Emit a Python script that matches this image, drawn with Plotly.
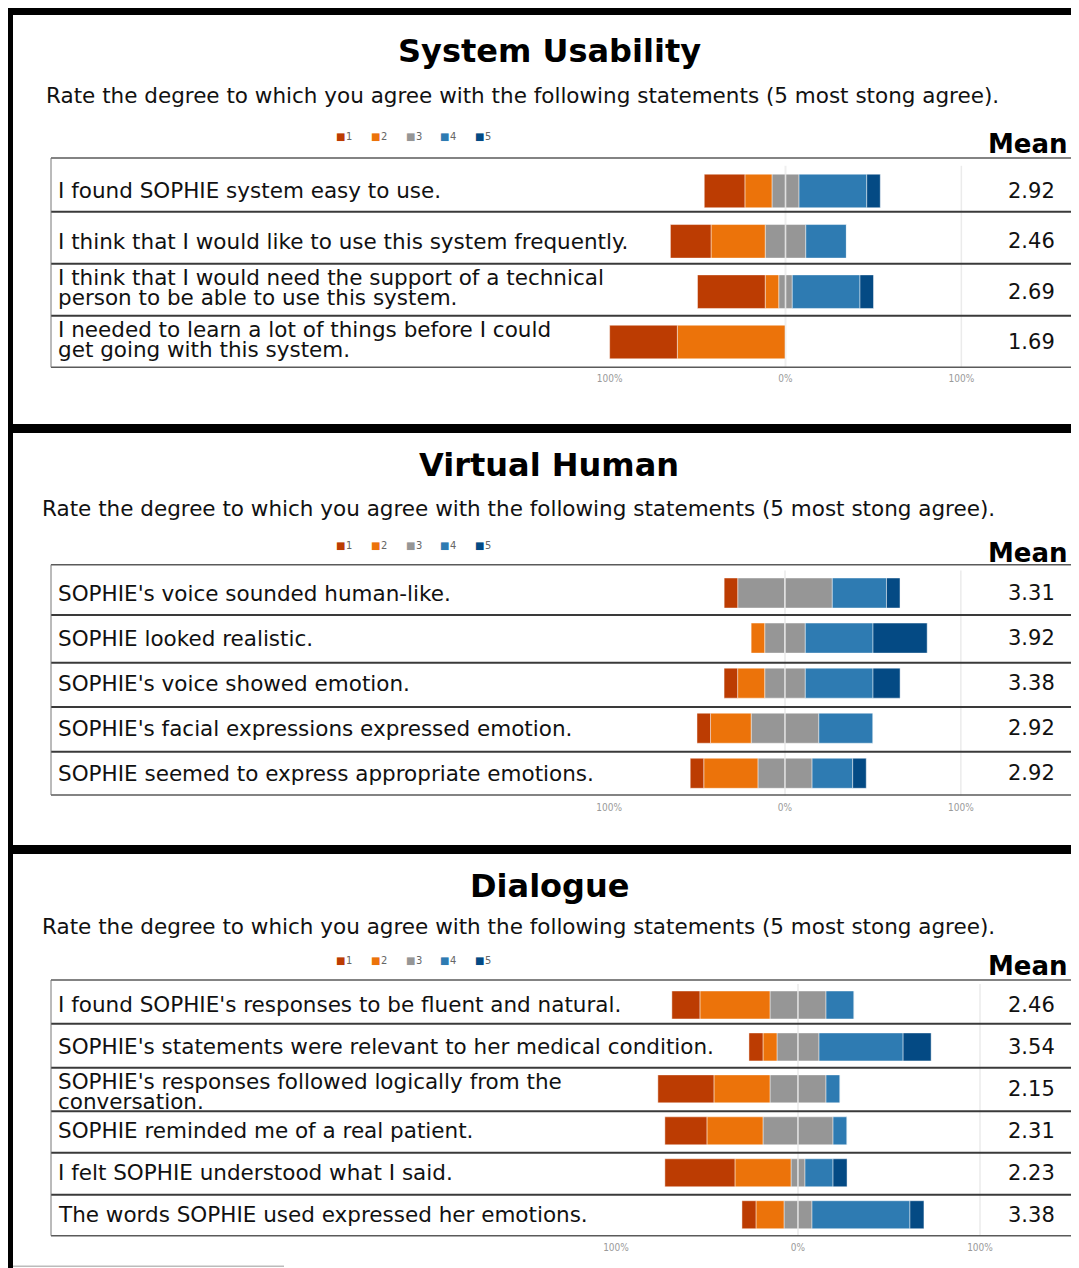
import plotly.graph_objects as go

# page is 1079x1268; the html body adds an 8px margin, so the figure is sized to fill the rest
PAGE_W, PAGE_H = 1079, 1268
OFF = 8
W, H = PAGE_W - OFF, PAGE_H - OFF

# ---------------- data ----------------
level_names = ["1", "2", "3", "4", "5"]
level_colors = ["#BC3C02", "#EC730A", "#969696", "#2E7BB2", "#044A84"]

subtitle_text = "Rate the degree to which you agree with the following statements (5 most stong agree)."
tick_vals = [-100, 0, 100]
tick_text = ["100%", "0%", "100%"]

su_title = "System Usability"
su_labels = [
    "I found SOPHIE system easy to use.",
    "I think that I would like to use this system frequently.",
    "I think that I would need the support of a technical<br>person to be able to use this system.",
    "I needed to learn a lot of things before I could<br>get going with this system.",
]
su_means = ["2.92", "2.46", "2.69", "1.69"]
su_1 = [23.1, 23.1, 38.5, 38.5]
su_2 = [15.4, 30.8, 7.7, 61.5]
su_3 = [15.4, 23.1, 7.7, 0.0]
su_4 = [38.5, 23.1, 38.5, 0.0]
su_5 = [7.7, 0.0, 7.7, 0.0]

vh_title = "Virtual Human"
vh_labels = [
    "SOPHIE's voice sounded human-like.",
    "SOPHIE looked realistic.",
    "SOPHIE's voice showed emotion.",
    "SOPHIE's facial expressions expressed emotion.",
    "SOPHIE seemed to express appropriate emotions.",
]
vh_means = ["3.31", "3.92", "3.38", "2.92", "2.92"]
vh_1 = [7.7, 0.0, 7.7, 7.7, 7.7]
vh_2 = [0.0, 7.7, 15.4, 23.1, 30.8]
vh_3 = [53.8, 23.1, 23.1, 38.5, 30.8]
vh_4 = [30.8, 38.5, 38.5, 30.8, 23.1]
vh_5 = [7.7, 30.8, 15.4, 0.0, 7.7]

dl_title = "Dialogue"
dl_labels = [
    "I found SOPHIE's responses to be fluent and natural.",
    "SOPHIE's statements were relevant to her medical condition.",
    "SOPHIE's responses followed logically from the<br>conversation.",
    "SOPHIE reminded me of a real patient.",
    "I felt SOPHIE understood what I said.",
    "The words SOPHIE used expressed her emotions.",
]
dl_means = ["2.46", "3.54", "2.15", "2.31", "2.23", "3.38"]
dl_1 = [15.4, 7.7, 30.8, 23.1, 38.5, 7.7]
dl_2 = [38.5, 7.7, 30.8, 30.8, 30.8, 15.4]
dl_3 = [30.8, 23.1, 30.8, 38.5, 7.7, 15.4]
dl_4 = [15.4, 46.2, 7.7, 7.7, 15.4, 53.8]
dl_5 = [0.0, 15.4, 0.0, 0.0, 7.7, 7.7]

# ---------------- layout helpers ----------------
FONT = "DejaVu Sans, Verdana, sans-serif"
NARROW = "Liberation Sans Narrow, DejaVu Sans Condensed, Roboto, sans-serif"
LABEL_SIZE = 21.5


def fx(px):
    return (px - OFF) / W


def fy(py):
    return 1 - (py - OFF) / H


panels = [
    dict(title=su_title, labels=su_labels, means=su_means,
         levels=[su_1, su_2, su_3, su_4, su_5],
         title_y=51, sub_x=44, sub_y=96, legend_y=137, mean_y=144,
         plot_top=165.8, plot_bottom=367.2, zero=785.5, scale=1.7585,
         rows=[158, 211.7, 263.7, 315.7, 367.3]),
    dict(title=vh_title, labels=vh_labels, means=vh_means,
         levels=[vh_1, vh_2, vh_3, vh_4, vh_5],
         title_y=465, sub_x=40, sub_y=509, legend_y=545, mean_y=553,
         plot_top=570.5, plot_bottom=795.8, zero=785.0, scale=1.7585,
         rows=[564.7, 615, 662.7, 707, 751.7, 795]),
    dict(title=dl_title, labels=dl_labels, means=dl_means,
         levels=[dl_1, dl_2, dl_3, dl_4, dl_5],
         title_y=886, sub_x=40, sub_y=926, legend_y=960, mean_y=966,
         plot_top=984.0, plot_bottom=1235.7, zero=798.0, scale=1.82,
         rows=[980, 1023.7, 1067.7, 1111.3, 1152.7, 1194.7, 1235.7]),
]

DOM_L, DOM_R = 560, 1000
legend_x = [334, 369, 404, 438, 473]
LABEL_X = 56

fig = go.Figure()
shapes = []
annotations = []
layout_axes = {}

for p_i, p in enumerate(panels):
    sfx = "" if p_i == 0 else str(p_i + 1)
    xa, ya = "x" + sfx, "y" + sfx
    n = len(p["labels"])
    idx = list(range(n))
    l1, l2, l3, l4, l5 = p["levels"]
    segs = [
        (2, [-v / 2 for v in l3]),
        (1, [-v for v in l2]),
        (0, [-v for v in l1]),
        (2, [v / 2 for v in l3]),
        (3, l4),
        (4, l5),
    ]
    for lev, vals in segs:
        fig.add_trace(go.Bar(
            x=vals, y=idx, orientation="h", name=level_names[lev],
            marker=dict(color=level_colors[lev],
                        line=dict(color="rgba(255,255,255,0.45)", width=1)),
            showlegend=False, xaxis=xa, yaxis=ya,
        ))

    rng = [(DOM_L - p["zero"]) / p["scale"], (DOM_R - p["zero"]) / p["scale"]]
    layout_axes["xaxis" + sfx] = dict(
        domain=[fx(DOM_L), fx(DOM_R)], range=rng, anchor=ya,
        tickvals=tick_vals, ticktext=tick_text, showgrid=False, zeroline=False,
        showline=False, ticks="", fixedrange=True, ticklabelstandoff=4,
        tickfont=dict(family=NARROW, size=10, color="#9a9a9a"),
    )
    layout_axes["yaxis" + sfx] = dict(
        domain=[fy(p["plot_bottom"]), fy(p["plot_top"])],
        range=[n - 0.5, -0.5], anchor=xa, visible=False, fixedrange=True,
    )

    # gridlines (100% below bars, 0% above bars)
    shapes.append(dict(type="line", xref=xa, yref=ya + " domain", x0=100, x1=100,
                       y0=0, y1=1, line=dict(color="#ebebeb", width=1.5), layer="below"))
    shapes.append(dict(type="line", xref=xa, yref=ya + " domain", x0=0, x1=0,
                       y0=0, y1=1, line=dict(color="rgba(228,228,228,0.6)", width=2),
                       layer="above"))

    # table lines
    rows = p["rows"]
    for r_i, ry in enumerate(rows):
        outer = r_i == 0 or r_i == len(rows) - 1
        shapes.append(dict(type="line", xref="paper", yref="paper",
                           x0=fx(51), x1=1.0, y0=fy(ry), y1=fy(ry),
                           line=dict(color="#5a5a5a" if outer else "#3a3a3a",
                                     width=1.5 if outer else 2)))
    shapes.append(dict(type="line", xref="paper", yref="paper",
                       x0=fx(51), x1=fx(51), y0=fy(rows[0]), y1=fy(rows[-1]),
                       line=dict(color="#777777", width=1)))

    # titles
    annotations.append(dict(text="<b>" + p["title"] + "</b>", xref="paper", yref="paper",
                            x=fx(549), y=fy(p["title_y"]), xanchor="center", yanchor="middle",
                            showarrow=False, font=dict(family=FONT, size=32, color="#000")))
    annotations.append(dict(text=subtitle_text, xref="paper", yref="paper",
                            x=fx(p["sub_x"]), y=fy(p["sub_y"]), xanchor="left", yanchor="middle",
                            showarrow=False, font=dict(family=FONT, size=21.5, color="#111")))
    annotations.append(dict(text="<b>Mean</b>", xref="paper", yref="paper",
                            x=fx(1070), y=fy(p["mean_y"]), xanchor="right", yanchor="middle",
                            showarrow=False, font=dict(family=FONT, size=26, color="#000")))
    # legend
    for k in range(5):
        annotations.append(dict(text="■", xref="paper", yref="paper",
                                x=fx(legend_x[k]), y=fy(p["legend_y"]), xanchor="left",
                                yanchor="middle", showarrow=False,
                                font=dict(family=FONT, size=10, color=level_colors[k])))
        annotations.append(dict(text=level_names[k], xref="paper", yref="paper",
                                x=fx(legend_x[k] + 10), y=fy(p["legend_y"]), xanchor="left",
                                yanchor="middle", showarrow=False,
                                font=dict(family=NARROW, size=11, color="#666")))

    # row labels and means
    for i in range(n):
        parts = p["labels"][i].split("<br>")
        if len(parts) == 1:
            annotations.append(dict(text=parts[0], xref="paper", yref=ya, x=fx(LABEL_X), y=i,
                                    xanchor="left", yanchor="middle", showarrow=False,
                                    font=dict(family=FONT, size=LABEL_SIZE, color="#111")))
        else:
            for j, part in enumerate(parts):
                annotations.append(dict(text=part, xref="paper", yref="paper", x=fx(LABEL_X),
                                        y=fy(rows[i] + 14 + 20 * j),
                                        xanchor="left", yanchor="middle", showarrow=False,
                                        font=dict(family=FONT, size=LABEL_SIZE, color="#111")))
        annotations.append(dict(text=p["means"][i], xref="paper", yref=ya, x=fx(1031), y=i,
                                xanchor="center", yanchor="middle", showarrow=False,
                                font=dict(family=FONT, size=21, color="#111")))


# panel frames (black borders)
def band(x0, x1, y0, y1, color="#000"):
    return dict(type="rect", xref="paper", yref="paper", x0=fx(x0), x1=fx(x1),
                y0=fy(y1), y1=fy(y0), fillcolor=color, line=dict(width=0), layer="above")


shapes += [
    band(6, 13, 8, 1268),
    band(6, 1079, 8, 15),
    band(6, 1079, 424, 433),
    band(6, 1079, 845, 854),
    band(13, 284, 1265.5, 1267, color="#bbbbbb"),
]

fig.update_layout(
    width=W, height=H, autosize=False,
    margin=dict(l=0, r=0, t=0, b=0),
    paper_bgcolor="white", plot_bgcolor="rgba(0,0,0,0)",
    barmode="relative", bargap=1 / 3,
    shapes=shapes, annotations=annotations,
    showlegend=False,
    **layout_axes,
)

fig.write_html("out.html")
